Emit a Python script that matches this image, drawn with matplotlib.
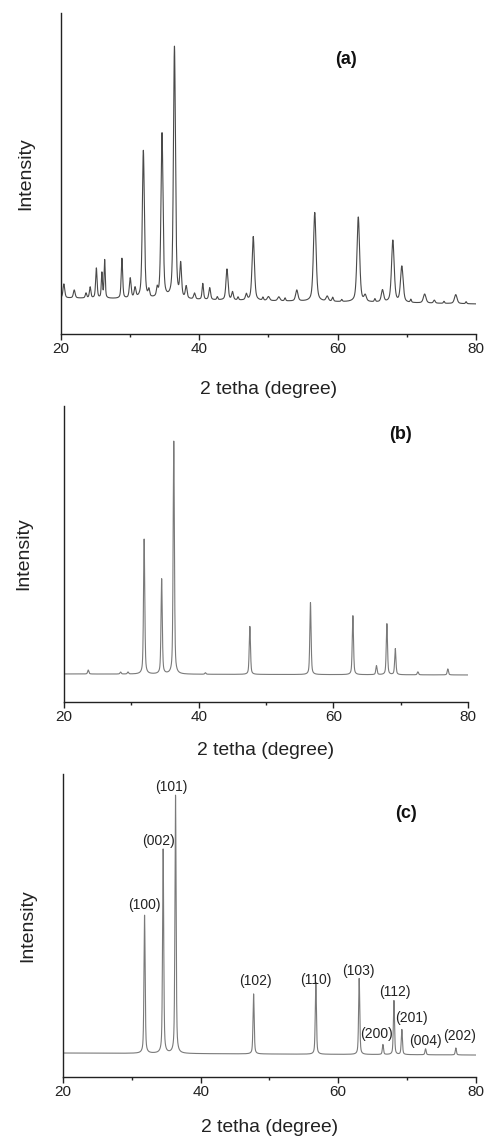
import numpy as np
import matplotlib
matplotlib.use("Agg")
import matplotlib.pyplot as plt
from matplotlib.ticker import MultipleLocator

plt.rcParams["font.family"] = ["Liberation Sans", "DejaVu Sans"]

# XRD patterns, intensity in arbitrary units
# (a) sample: broad peaks on a noisy background
a_pos = [20.4, 21.9, 23.6, 24.2, 25.1, 25.9, 26.3, 28.8, 30.0, 30.7, 31.9,
         32.7, 33.9, 34.6, 36.4, 37.3, 38.1, 39.3, 40.5, 41.5, 42.6, 44.0,
         44.8, 45.6, 46.8, 47.8, 49.2, 50.0, 51.5, 52.4, 54.1, 56.7, 58.5,
         59.3, 60.6, 63.0, 64.0, 65.4, 66.5, 68.0, 69.3, 70.6, 72.6, 74.0,
         75.4, 77.1, 78.6]
a_hgt = [14, 8, 5, 11, 30, 25, 38, 40, 20, 10, 148,
         7, 8, 165, 252, 33, 12, 6, 16, 12, 3, 31,
         8, 3, 6, 64, 3, 4, 4, 3, 11, 89, 5,
         4, 2, 85, 6, 3, 12, 62, 36, 3, 9, 3,
         2, 9, 2]
a_wid = [0.30, 0.30, 0.25, 0.25, 0.25, 0.20, 0.20, 0.25, 0.30, 0.30, 0.35,
         0.25, 0.25, 0.35, 0.35, 0.30, 0.30, 0.30, 0.25, 0.30, 0.20, 0.35,
         0.30, 0.20, 0.30, 0.40, 0.20, 0.40, 0.40, 0.20, 0.40, 0.45, 0.40,
         0.25, 0.20, 0.45, 0.40, 0.20, 0.40, 0.45, 0.45, 0.20, 0.45, 0.30,
         0.20, 0.45, 0.20]
a_bg = [36, 30]

# (b) sample
b_pos = [23.6, 28.4, 29.5, 31.9, 34.5, 36.3, 41.0, 47.6, 56.6, 62.9, 66.4,
         67.95, 69.2, 72.55, 77.0]
b_hgt = [4, 2, 2, 135, 95, 233, 1.5, 48, 72, 59, 9,
         51, 26, 3, 6]
b_bg = [28, 27]

# (c) sample with Miller indices
c_pos = [31.85, 34.55, 36.35, 47.7, 56.75, 63.05, 66.5, 68.1, 69.25, 72.7, 77.1]
c_hgt = [138, 204, 258, 60, 72, 76, 10, 54, 25, 6, 7]
c_hkl = ["(100)", "(002)", "(101)", "(102)", "(110)", "(103)", "(200)",
         "(112)", "(201)", "(004)", "(202)"]
c_bg = [24, 22]
c_lab_x = [31.8, 33.9, 35.8, 48.0, 56.8, 63.0, 65.6, 68.2, 70.7, 72.7, 77.7]
c_lab_y = [172, 236, 290, 96, 97, 106, 43, 85, 59, 36, 41]

x = np.linspace(20, 80, 6001)


def pattern(pos, hgt, wid, bg):
    y = bg[0] + (bg[1] - bg[0]) * (x - 20) / 60.0
    for p, h, w in zip(pos, hgt, wid):
        g = np.exp(-4 * np.log(2) * ((x - p) / w) ** 2)
        l = 1.0 / (1 + 4 * ((x - p) / w) ** 2)
        y = y + h * (0.5 * g + 0.5 * l)
    return y


fig = plt.figure(figsize=(4.85, 11.39), dpi=100)

panels = [
    ("(a)", [0.126, 0.7068, 0.855, 0.2818], pattern(a_pos, a_hgt, a_wid, a_bg), "#4a4a4a", 321),
    ("(b)", [0.132, 0.3837, 0.833, 0.2598], pattern(b_pos, b_hgt, [0.22] * len(b_pos), b_bg), "#7a7a7a", 296),
    ("(c)", [0.130, 0.0544, 0.851, 0.2661], pattern(c_pos, c_hgt, [0.2] * len(c_pos), c_bg), "#7a7a7a", 303),
]
tag_xy = [(61.2, 274), (70.0, 268), (69.8, 263)]
xpads = [18, 12.5, 14]
ypads = [19, 23, 19]

for i, (tag, rect, y, col, ytop) in enumerate(panels):
    ax = fig.add_axes(rect)
    ax.plot(x, y, color=col, lw=0.8)
    ax.set_xlim(20, 80)
    ax.set_ylim(0, ytop)
    ax.spines["top"].set_visible(False)
    ax.spines["right"].set_visible(False)
    for s in ("left", "bottom"):
        ax.spines[s].set_linewidth(1.0)
        ax.spines[s].set_color("#222222")
    ax.set_yticks([])
    ax.xaxis.set_major_locator(MultipleLocator(20))
    ax.xaxis.set_minor_locator(MultipleLocator(10))
    ax.tick_params(axis="x", which="major", direction="out", length=4, width=1,
                   labelsize=11, pad=2, colors="#222222")
    ax.tick_params(axis="x", which="minor", direction="out", length=2, width=1,
                   colors="#222222")
    ax.set_xlabel("2 tetha (degree)", fontsize=13.9, labelpad=xpads[i], color="#222222")
    ax.set_ylabel("Intensity", fontsize=14, labelpad=ypads[i], color="#222222")
    ax.text(tag_xy[i][0], tag_xy[i][1], tag, fontsize=13, fontweight="bold",
            ha="center", va="center", color="#111111")
    if tag == "(c)":
        for lab, lx, ly in zip(c_hkl, c_lab_x, c_lab_y):
            ax.text(lx, ly, lab, fontsize=10, ha="center", va="center",
                    color="#222222")

fig.savefig("out.png", dpi=100)
